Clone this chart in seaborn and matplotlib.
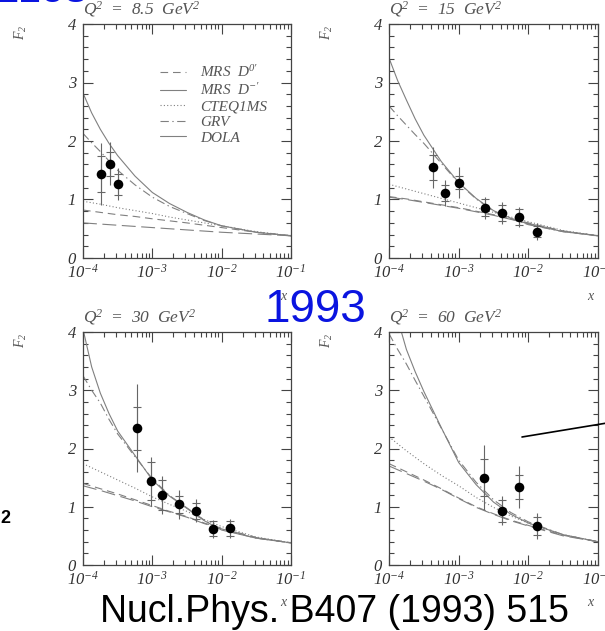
import numpy as np
import pandas as pd
import matplotlib
matplotlib.use("Agg")
import matplotlib.pyplot as plt
import seaborn as sns
from matplotlib.lines import Line2D
from matplotlib.ticker import FixedLocator, LogLocator, NullFormatter, MultipleLocator

# ---------------- data ----------------
q2_values = ["8.5", "15", "30", "60"]
log_x_grid = [-4.0, -3.875, -3.75, -3.625, -3.5, -3.25, -3.0, -2.75, -2.5, -2.25, -2.0, -1.5, -1.0]

# model curves F2(x) per Q^2 panel, read at log_x_grid
mrs_d0 = [
    [0.82, 0.80, 0.78, 0.76, 0.74, 0.71, 0.67, 0.635, 0.60, 0.56, 0.52, 0.44, 0.38],
    [1.05, 1.03, 1.01, 0.985, 0.96, 0.91, 0.86, 0.80, 0.74, 0.67, 0.60, 0.46, 0.38],
    [1.40, 1.355, 1.31, 1.265, 1.22, 1.12, 1.02, 0.92, 0.83, 0.72, 0.63, 0.47, 0.38],
    [1.74, 1.67, 1.60, 1.53, 1.46, 1.31, 1.15, 1.00, 0.88, 0.77, 0.68, 0.51, 0.40],
]
mrs_dm = [
    [2.82, 2.48, 2.20, 1.96, 1.75, 1.40, 1.12, 0.93, 0.78, 0.65, 0.55, 0.44, 0.38],
    [3.42, 3.03, 2.70, 2.38, 2.10, 1.65, 1.29, 1.02, 0.81, 0.68, 0.58, 0.45, 0.38],
    [4.05, 3.40, 2.95, 2.60, 2.30, 1.88, 1.46, 1.18, 0.97, 0.76, 0.60, 0.46, 0.38],
    [4.90, 4.22, 3.70, 3.32, 2.98, 2.36, 1.76, 1.38, 1.08, 0.87, 0.72, 0.52, 0.40],
]
cteq1ms = [
    [0.97, 0.945, 0.92, 0.89, 0.86, 0.81, 0.76, 0.70, 0.65, 0.60, 0.55, 0.45, 0.38],
    [1.26, 1.22, 1.18, 1.14, 1.10, 1.02, 0.94, 0.86, 0.78, 0.70, 0.62, 0.47, 0.38],
    [1.74, 1.67, 1.60, 1.53, 1.46, 1.32, 1.17, 1.04, 0.92, 0.78, 0.66, 0.48, 0.38],
    [2.20, 2.08, 1.96, 1.85, 1.74, 1.54, 1.36, 1.16, 0.99, 0.84, 0.72, 0.52, 0.40],
]
grv = [
    [2.13, 1.97, 1.82, 1.66, 1.50, 1.25, 1.04, 0.88, 0.76, 0.64, 0.55, 0.44, 0.38],
    [2.60, 2.43, 2.27, 2.11, 1.96, 1.62, 1.28, 1.01, 0.80, 0.67, 0.57, 0.45, 0.38],
    [3.25, 3.00, 2.78, 2.50, 2.25, 1.86, 1.48, 1.19, 0.98, 0.77, 0.61, 0.46, 0.38],
    [3.97, 3.70, 3.45, 3.17, 2.90, 2.35, 1.80, 1.42, 1.12, 0.90, 0.74, 0.52, 0.40],
]
dola = [
    [0.60, 0.59, 0.58, 0.57, 0.56, 0.54, 0.52, 0.50, 0.48, 0.46, 0.44, 0.41, 0.38],
    [1.04, 1.02, 1.00, 0.975, 0.95, 0.90, 0.85, 0.79, 0.73, 0.66, 0.59, 0.46, 0.38],
    [1.36, 1.32, 1.28, 1.235, 1.19, 1.10, 1.00, 0.91, 0.82, 0.71, 0.62, 0.47, 0.38],
    [1.70, 1.635, 1.57, 1.505, 1.44, 1.30, 1.14, 0.99, 0.87, 0.76, 0.67, 0.50, 0.40],
]
model_names = ["MRS D0'", "MRS D-'", "CTEQ1MS", "GRV", "DOLA"]
legend_labels = ["MRS  D$^{0\\prime}$", "MRS  D$^{-\\prime}$", "CTEQ1MS", "GRV", "DOLA"]

# measured points
data_x = [
    [1.8e-4, 2.43e-4, 3.25e-4],
    [4.3e-4, 6.3e-4, 1.0e-3, 2.4e-3, 4.2e-3, 7.45e-3, 1.34e-2],
    [6.0e-4, 9.7e-4, 1.4e-3, 2.4e-3, 4.3e-3, 7.6e-3, 1.34e-2],
    [2.33e-3, 4.2e-3, 7.45e-3, 1.34e-2],
]
data_f2 = [
    [1.43, 1.61, 1.26],
    [1.55, 1.11, 1.29, 0.86, 0.77, 0.70, 0.45],
    [2.35, 1.44, 1.20, 1.04, 0.93, 0.62, 0.63],
    [1.50, 0.93, 1.34, 0.67],
]
data_stat = [
    [0.31, 0.21, 0.18],
    [0.21, 0.13, 0.11, 0.14, 0.13, 0.13, 0.09],
    [0.37, 0.32, 0.26, 0.14, 0.14, 0.13, 0.13],
    [0.32, 0.19, 0.20, 0.15],
]
data_tot = [
    [0.53, 0.37, 0.27],
    [0.35, 0.22, 0.27, 0.19, 0.19, 0.17, 0.15],
    [0.76, 0.42, 0.32, 0.25, 0.20, 0.16, 0.16],
    [0.56, 0.25, 0.36, 0.22],
]
x_tick_values = [1e-4, 1e-3, 1e-2, 1e-1]
x_tick_labels = ["10$^{-4}$", "10$^{-3}$", "10$^{-2}$", "10$^{-1}$"]
y_tick_values = [0, 1, 2, 3, 4]

# ---------------- style ----------------
sns.set_theme(style="ticks")
plt.rcParams["font.family"] = ["Liberation Serif", "DejaVu Serif"]
plt.rcParams["font.style"] = "italic"
plt.rcParams["mathtext.fontset"] = "custom"
plt.rcParams["mathtext.rm"] = "Liberation Serif:italic"
plt.rcParams["mathtext.it"] = "Liberation Serif:italic"
plt.rcParams["mathtext.sf"] = "Liberation Serif:italic"
plt.rcParams["lines.scale_dashes"] = False

GRAY_TXT = "#555555"
CURVE = "#808080"
FRAME = "#444444"

dash_map = {
    "MRS D0'": (5.5, 3.5),
    "MRS D-'": "",
    "CTEQ1MS": (0.8, 1.6),
    "GRV": (6, 2.5, 1, 2.5),
    "DOLA": (10, 4),
}

fig = plt.figure(figsize=(6.05, 6.31), dpi=100)
W, H = 605.0, 631.0
boxes = [
    (83, 24, 291, 258),
    (389, 24, 598, 258),
    (83, 332, 291, 565),
    (389, 332, 598, 565),
]

for i, (l, t, r, b) in enumerate(boxes):
    ax = fig.add_axes([l / W, 1 - b / H, (r - l) / W, (b - t) / H])
    rows = []
    for name, arr in zip(model_names, [mrs_d0, mrs_dm, cteq1ms, grv, dola]):
        for lx, v in zip(log_x_grid, arr[i]):
            rows.append({"x": 10 ** lx, "F2": v, "model": name})
    df = pd.DataFrame(rows)
    sns.lineplot(data=df, x="x", y="F2", style="model", dashes=dash_map,
                 color=CURVE, linewidth=0.8, legend=False, ax=ax,
                 estimator=None, sort=True)

    ax.errorbar(data_x[i], data_f2[i], yerr=data_tot[i], fmt="none",
                ecolor="#666666", elinewidth=0.8, capsize=0, zorder=3)
    ax.errorbar(data_x[i], data_f2[i], yerr=data_stat[i], fmt="none",
                ecolor="#666666", elinewidth=0.8, capsize=3.2, capthick=0.8, zorder=3)
    sns.scatterplot(x=data_x[i], y=data_f2[i], color="black", s=48,
                    edgecolor="black", linewidth=0, zorder=5, ax=ax)

    ax.set_xscale("log")
    ax.set_xlim(1e-4, 1e-1)
    ax.set_ylim(0, 4)
    ax.xaxis.set_major_locator(FixedLocator(x_tick_values))
    ax.set_xticklabels(x_tick_labels)
    ax.xaxis.set_minor_locator(LogLocator(base=10, subs=np.arange(2, 10)))
    ax.xaxis.set_minor_formatter(NullFormatter())
    ax.yaxis.set_major_locator(FixedLocator(y_tick_values))
    ax.set_yticklabels([str(v) for v in y_tick_values])
    ax.yaxis.set_minor_locator(MultipleLocator(0.2))
    ax.tick_params(which="both", direction="in", top=True, right=True,
                   colors=FRAME, labelcolor="#333333", labelsize=12, width=0.8)
    ax.tick_params(which="major", length=7)
    ax.tick_params(which="minor", length=3.5)
    ax.tick_params(axis="x", pad=4)
    ax.tick_params(axis="y", pad=5)
    for sp in ax.spines.values():
        sp.set_color(FRAME)
        sp.set_linewidth(0.9)
    ax.set_xlabel("")
    ax.set_ylabel("")

    ax.text(0.0, 1.02, "Q$^2$  =  " + q2_values[i] + "  GeV$^2$",
            transform=ax.transAxes, ha="left", va="bottom",
            fontsize=12.5, color=GRAY_TXT)
    ax.text(-0.298, 0.965, "F$_2$", transform=ax.transAxes, rotation=90,
            ha="center", va="center", fontsize=10, color=GRAY_TXT)
    ax.text(0.962, -0.163, "x", transform=ax.transAxes, ha="center",
            va="center", fontsize=10, color=GRAY_TXT)

    if i == 0:
        handles = [
            Line2D([], [], color=CURVE, lw=0.8, dashes=dash_map["MRS D0'"]),
            Line2D([], [], color=CURVE, lw=0.8),
            Line2D([], [], color=CURVE, lw=0.8, dashes=dash_map["CTEQ1MS"]),
            Line2D([], [], color=CURVE, lw=0.8, dashes=dash_map["GRV"]),
            Line2D([], [], color=CURVE, lw=0.8),
        ]
        leg = ax.legend(handles, legend_labels, loc="upper left",
                        bbox_to_anchor=(0.335, 0.86), frameon=False,
                        fontsize=11, handlelength=1.7, handletextpad=0.9,
                        labelspacing=0.12, borderpad=0)
        for t in leg.get_texts():
            t.set_color(GRAY_TXT)

# ---------------- overlay texts ----------------
fig.text(315.5 / W, 1 - 322 / H, "1993", ha="center", va="baseline",
         fontsize=33, color="#0a14e0", family="Liberation Sans", style="normal")
fig.text(335 / W, 1 - 622 / H, "Nucl.Phys. B407 (1993) 515", ha="center",
         va="baseline", fontsize=27, color="black", family="Liberation Sans",
         style="normal")
fig.text(-2 / W, 1 - 2.5 / H, "ZEUS", ha="left", va="baseline", fontsize=24,
         color="#0a14e0", family="Liberation Sans", style="normal")
fig.text(0.5 / W, 1 - 523 / H, "2", ha="left", va="baseline", fontsize=13,
         color="black", family="Liberation Sans", style="normal", weight="bold")
fig.add_artist(Line2D([522 / W, 607 / W], [1 - 437 / H, 1 - 423 / H],
                      transform=fig.transFigure, color="black", lw=1.2))

fig.savefig("out.png", dpi=100)
